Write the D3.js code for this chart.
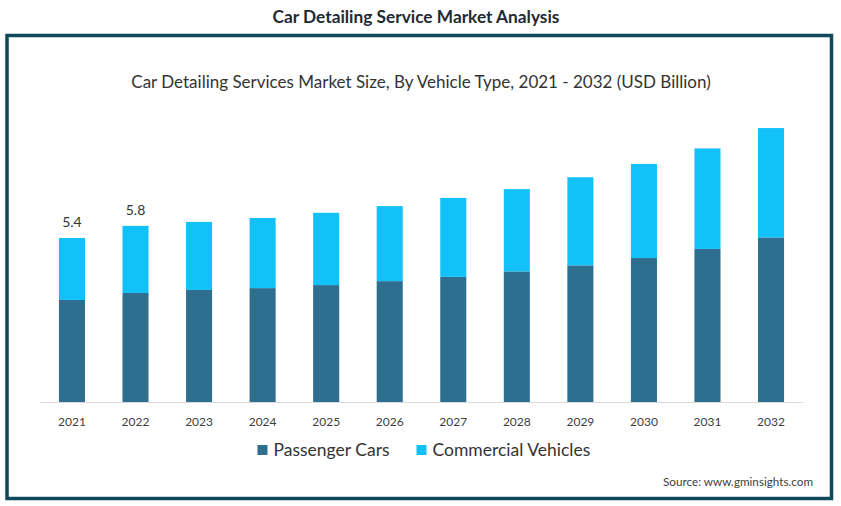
<!DOCTYPE html>
<html>
<head>
<meta charset="utf-8">
<script src="https://cdn.jsdelivr.net/npm/d3@7"></script>
<style>
  html, body { margin: 0; padding: 0; background: #ffffff; }
  svg { display: block; font-family: Lato, "Open Sans", sans-serif; }
</style>
</head>
<body>
<svg id="chart" width="841" height="506"></svg>
<script>
const years = ["2021","2022","2023","2024","2025","2026","2027","2028","2029","2030","2031","2032"];
const passengerCars = [3.36, 3.59, 3.69, 3.75, 3.85, 3.98, 4.12, 4.30, 4.50, 4.74, 5.04, 5.42];
const commercialVehicles = [2.04, 2.21, 2.24, 2.31, 2.38, 2.47, 2.60, 2.71, 2.90, 3.10, 3.31, 3.60];
const labeledYears = ["2021", "2022"];
const labelTexts = ["5.4", "5.8"];
const seriesNames = ["Passenger Cars", "Commercial Vehicles"];
const colors = ["#2e6e8f", "#12c1f7"];

const svg = d3.select("#chart");

// Page title
svg.append("text")
  .attr("x", 416).attr("y", 22.5)
  .attr("text-anchor", "middle")
  .attr("font-size", 17.3).attr("font-weight", "bold").attr("fill", "#1f2a33")
  .text("Car Detailing Service Market Analysis");

// Frame
svg.append("rect")
  .attr("x", 7).attr("y", 35.5).attr("width", 824.5).attr("height", 463)
  .attr("fill", "none").attr("stroke", "#0f4a5b").attr("stroke-width", 3.5);

// Chart title
svg.append("text")
  .attr("x", 421).attr("y", 88)
  .attr("text-anchor", "middle")
  .attr("font-size", 17).attr("fill", "#333333")
  .text("Car Detailing Services Market Size, By Vehicle Type, 2021 - 2032 (USD Billion)");

const x = d3.scaleBand().domain(years).range([40, 803]).paddingInner(0.59).paddingOuter(0.298);
const y = d3.scaleLinear().domain([0, 10]).range([402, 98.3]);

const data = years.map((yr, i) => ({ year: yr, pc: passengerCars[i], cv: commercialVehicles[i] }));
const stack = d3.stack().keys(["pc", "cv"]);
const stacked = stack(data);

svg.append("g").selectAll("g").data(stacked).join("g")
  .attr("fill", (d, i) => colors[i])
  .selectAll("rect").data(d => d).join("rect")
  .attr("x", d => x(d.data.year))
  .attr("width", x.bandwidth())
  .attr("y", d => y(d[1]))
  .attr("height", d => y(d[0]) - y(d[1]));

// Axis
const axis = d3.axisBottom(x).tickSize(0).tickPadding(15.5);
const gx = svg.append("g").attr("transform", "translate(0,402)").call(axis);
gx.select(".domain").attr("stroke", "#d9d9d9").attr("stroke-width", 1.2);
gx.selectAll("text").attr("font-size", 12).attr("fill", "#404040").attr("font-family", "Lato, sans-serif");

// Value labels
labeledYears.forEach((yr, i) => {
  const idx = years.indexOf(yr);
  svg.append("text")
    .attr("x", x(yr) + x.bandwidth() / 2)
    .attr("y", y(passengerCars[idx] + commercialVehicles[idx]) - 11)
    .attr("text-anchor", "middle")
    .attr("font-size", 14).attr("fill", "#333333")
    .text(labelTexts[i]);
});

// Legend
const legendX = [257.5, 416.5];
const lg = svg.append("g");
seriesNames.forEach((name, i) => {
  lg.append("rect").attr("x", legendX[i]).attr("y", 445).attr("width", 10).attr("height", 10).attr("fill", colors[i]);
  lg.append("text").attr("x", legendX[i] + 16).attr("y", 456)
    .attr("font-size", 17.5).attr("fill", "#333333").text(name);
});

// Source
svg.append("text")
  .attr("x", 813).attr("y", 486)
  .attr("text-anchor", "end")
  .attr("font-size", 11.7).attr("fill", "#404040")
  .text("Source: www.gminsights.com");
</script>
</body>
</html>
